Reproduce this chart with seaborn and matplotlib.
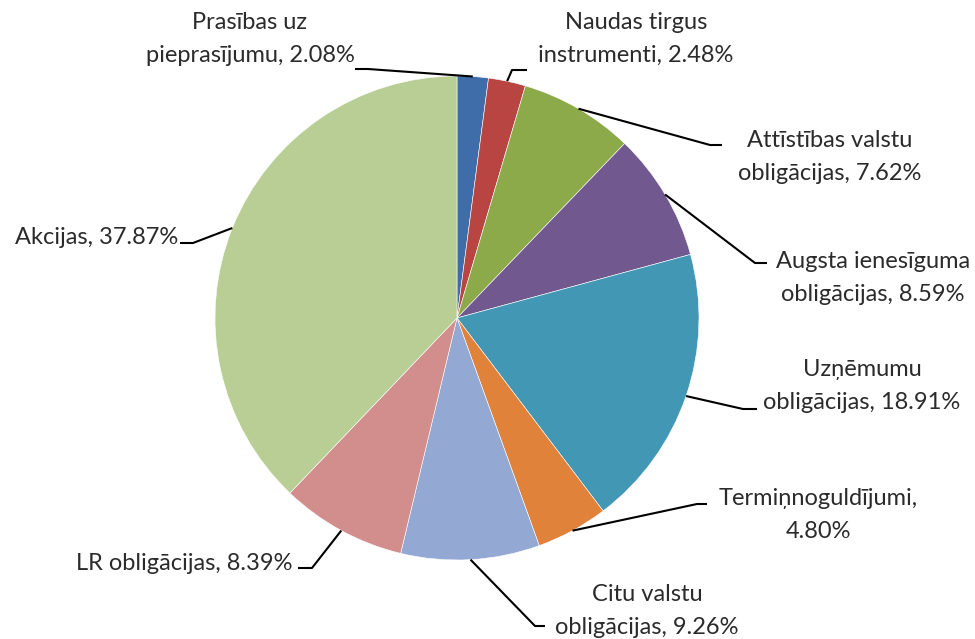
import numpy as np
import matplotlib.pyplot as plt
import seaborn as sns

# portfolio structure (share, %)
labels = ["Prasības uz\npieprasījumu", "Naudas tirgus\ninstrumenti",
          "Attīstības valstu\nobligācijas", "Augsta ienesīguma\nobligācijas",
          "Uzņēmumu\nobligācijas", "Termiņnoguldījumi,\n", "Citu valstu\nobligācijas",
          "LR obligācijas", "Akcijas"]
shares = [2.08, 2.48, 7.62, 8.59, 18.91, 4.80, 9.26, 8.39, 37.87]
colors = ["#3F6DAA", "#B84541", "#8DAA4B", "#71588F", "#4298B4",
          "#E0823A", "#93A9D3", "#D18E8D", "#B8CE95"]

sns.set_theme(style="white")
plt.rcParams['font.family'] = ['Lato', 'DejaVu Sans']

W, H = 975, 639
fig = plt.figure(figsize=(W / 100, H / 100), dpi=100)
ax = fig.add_axes([0, 0, 1, 1])

cx, cy, R = 457, 318, 242   # pie centre / radius in pixels (y down)
ax.pie(shares, colors=colors, startangle=90, counterclock=False,
       center=(cx, H - cy), radius=R,
       wedgeprops=dict(linewidth=0.4, edgecolor="white"))
ax.set_xlim(0, W)
ax.set_ylim(0, H)
ax.set_aspect("equal")
ax.axis("off")

# label layout: text position, alignment, horizontal leader segment (x0, x1, y)
layout = [
    dict(xy=(250, 39), ha="center", seg=(355, 368, 69)),
    dict(xy=(636, 39), ha="center", seg=(527, 512, 70)),
    dict(xy=(830, 157), ha="center", seg=(722, 710, 145)),
    dict(xy=(873, 278), ha="center", seg=(767, 755, 263)),
    dict(xy=(862, 386), ha="center", seg=(757, 743, 409)),
    dict(xy=(818, 515), ha="center", seg=(707, 697, 504)),
    dict(xy=(647, 611), ha="center", seg=(545, 535, 626)),
    dict(xy=(293, 563), ha="right", seg=(298, 312, 568)),
    dict(xy=(178, 238), ha="right", seg=(180, 193, 243)),
]

cum = np.cumsum([0] + shares)
for i, (lab, val) in enumerate(zip(labels, shares)):
    mid = (cum[i] + val / 2) / 100 * 2 * np.pi
    ax_x = cx + R * np.sin(mid)
    ax_y = cy - R * np.cos(mid)
    if lab.endswith("\n"):
        txt = lab + f"{val:.2f}%"
    else:
        txt = f"{lab}, {val:.2f}%"
    lay = layout[i]
    ax.text(lay["xy"][0], H - lay["xy"][1], txt, ha=lay["ha"], va="center",
            fontsize=17, color="#2b2b2b", linespacing=1.65)
    x0, x1, y = lay["seg"]
    ax.plot([x0, x1, ax_x], [H - y, H - y, H - ax_y], color="black", lw=1.5,
            solid_capstyle="butt")

fig.savefig("out.png", dpi=100)
